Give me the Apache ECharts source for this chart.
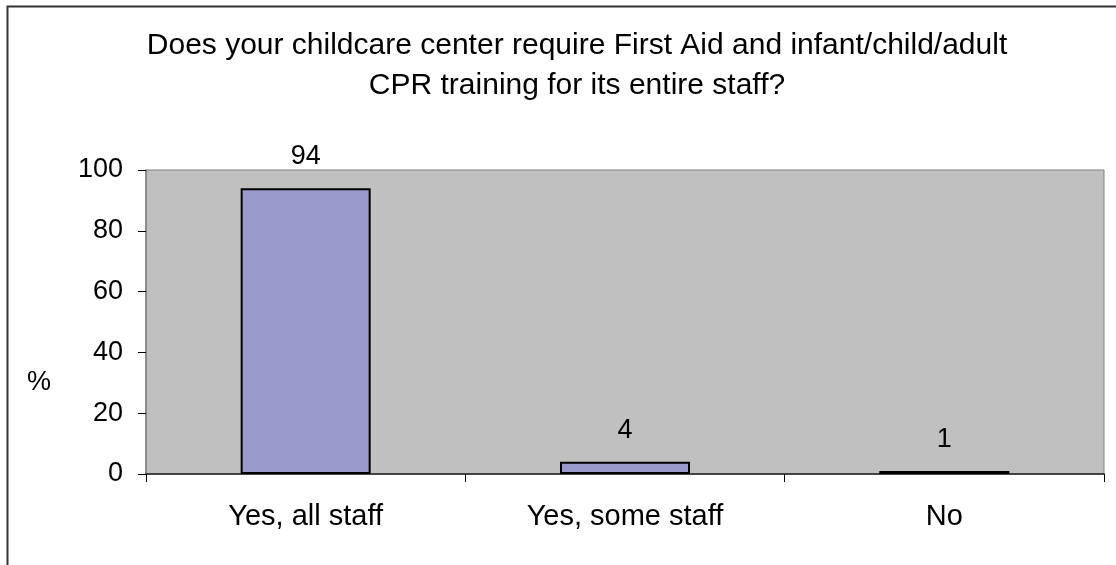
<!DOCTYPE html>
<html><head><meta charset="utf-8">
<script src="https://cdn.jsdelivr.net/npm/echarts@6/dist/echarts.min.js"></script>
<style>html,body{margin:0;padding:0;background:#fff}#c{width:1116px;height:565px}</style>
</head><body><div id="c"></div>
<script>
var titleText = "Does your childcare center require First Aid and infant/child/adult\nCPR training for its entire staff?";
var categories = ["Yes, all staff", "Yes, some staff", "No"];
var values = [94, 4, 1];
var yTicks = [0, 20, 40, 60, 80, 100];
var yAxisName = "%";

var font = "'Liberation Sans', Arial, sans-serif";
var chart = echarts.init(document.getElementById('c'), null, {renderer: 'canvas'});
chart.setOption({
  animation: false,
  backgroundColor: '#ffffff',
  title: {
    text: titleText,
    left: 572, top: 21, textAlign: 'center',
    textStyle: {fontFamily: font, fontSize: 30, fontWeight: 'normal', color: '#000', lineHeight: 40}
  },
  graphic: [
    {type: 'rect', shape: {x: 7.5, y: 6.5, width: 1200, height: 700}, style: {fill: null, stroke: '#333', lineWidth: 2}, silent: true, z: 100},
    {type: 'text', left: 27, top: 369, style: {text: yAxisName, font: "27px 'Liberation Sans', Arial, sans-serif", fill: '#000'}, silent: true}
  ],
  grid: {left: 146, top: 170, right: 12, bottom: 91, show: true, backgroundColor: '#c0c0c0', borderColor: '#808080', borderWidth: 1},
  xAxis: {
    type: 'category', data: categories,
    axisLine: {lineStyle: {color: '#222', width: 1.5}},
    axisTick: {show: true, length: 8, alignWithLabel: false, lineStyle: {color: '#000'}},
    axisLabel: {fontFamily: font, fontSize: 29, color: '#000', margin: 28}
  },
  yAxis: {
    type: 'value', min: yTicks[0], max: yTicks[yTicks.length - 1], interval: 20,
    axisLine: {show: true, lineStyle: {color: '#808080', width: 1.5}},
    axisTick: {show: true, length: 8, lineStyle: {color: '#000'}},
    splitLine: {show: false},
    axisLabel: {fontFamily: font, fontSize: 27, color: '#000', margin: 23}
  },
  series: [{
    type: 'bar', data: values, barWidth: 130,
    itemStyle: {color: '#9999cc', borderColor: '#000', borderWidth: 2},
    label: {show: true, position: 'top', distance: 18, fontFamily: font, fontSize: 27, color: '#000'}
  }]
});
</script></body></html>
